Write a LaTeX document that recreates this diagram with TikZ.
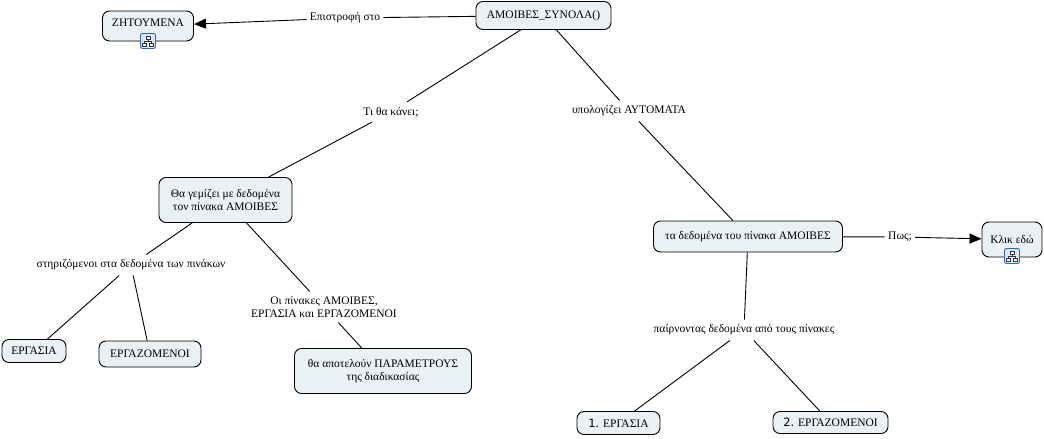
\documentclass[tikz,border=0pt]{standalone}
\usepackage{fontspec}
\setmainfont{Liberation Serif}
\newfontfamily\numfont{DejaVu Sans}
\usetikzlibrary{arrows.meta}
\definecolor{cfill}{HTML}{E9F1F5}
\definecolor{iconblue}{HTML}{2F64C0}
\definecolor{iconfill}{HTML}{DCE7F7}
\begin{document}
\begin{tikzpicture}[x=1pt,y=-1pt,
  font=\fontsize{11.5}{12.5}\selectfont,
  concept/.style={draw=black, fill=cfill, rounded corners=7pt, line width=0.9pt, align=center, inner sep=0pt},
  lab/.style={align=center, inner xsep=3pt, inner ysep=5pt},
  link/.style={draw=black, line width=0.9pt},
  arr/.style={link, -{Triangle[length=12pt,width=10pt]}},
  mapicon/.pic={
    \draw[iconblue, fill=iconfill, line width=0.9pt, rounded corners=2pt] (-7.5,-7.5) rectangle (7.5,7.5);
    \draw[black!80, line width=0.6pt, fill=white] (-2,-5) rectangle (2,-2);
    \draw[black!80, line width=0.6pt] (0,-2) -- (0,0) (-3.5,0) -- (3.5,0) (-3.5,0) -- (-3.5,2) (3.5,0) -- (3.5,2);
    \draw[black!80, line width=0.6pt, fill=white] (-5.5,2) rectangle (-1.5,5.2);
    \draw[black!80, line width=0.6pt, fill=white] (1.5,2) rectangle (5.5,5.2);
  }
]
\useasboundingbox (0,0) rectangle (1044,439);

% concepts
\node[concept, minimum width=135pt, minimum height=28pt] (amo) at (543.5,15.5) {ΑΜΟΙΒΕΣ\_ΣΥΝΟΛΑ()};
\node[concept, minimum width=91pt, minimum height=30pt] (zht) at (148,26) {ΖΗΤΟΥΜΕΝΑ\rule[-6pt]{0pt}{0pt}};
\node[concept, minimum width=133pt, minimum height=45pt] (thag) at (225.5,200) {Θα γεμίζει με δεδομένα\\τον πίνακα ΑΜΟΙΒΕΣ};
\node[concept, minimum width=189pt, minimum height=31pt] (dedo) at (748,236.5) {τα δεδομένα του πίνακα ΑΜΟΙΒΕΣ};
\node[concept, minimum width=60pt, minimum height=35pt] (klik) at (1012,239.5) {Κλικ εδώ};
\node[concept, minimum width=64pt, minimum height=23pt] (erg) at (34,351) {ΕΡΓΑΣΙΑ};
\node[concept, minimum width=102pt, minimum height=26pt] (ergz) at (150,354) {ΕΡΓΑΖΟΜΕΝΟΙ};
\node[concept, minimum width=177pt, minimum height=45pt] (par) at (383,371) {θα αποτελούν ΠΑΡΑΜΕΤΡΟΥΣ\\της διαδικασίας};
\node[concept, minimum width=83pt, minimum height=23pt] (e1) at (618.5,423) {{\numfont 1.} ΕΡΓΑΣΙΑ};
\node[concept, minimum width=115pt, minimum height=22pt] (e2) at (830.5,422.5) {{\numfont 2.} ΕΡΓΑΖΟΜΕΝΟΙ};

\pic at (148,41) {mapicon};
\pic at (1012,256) {mapicon};

% linking phrases
\node[lab] (l1) at (345,18) {Επιστροφή στο};
\node[lab] (l2) at (391,112) {Τι θα κάνει;};
\node[lab] (l3) at (629,111) {υπολογίζει ΑΥΤΟΜΑΤΑ};
\node[lab] (l4) at (131,265) {στηριζόμενοι στα δεδομένα των πινάκων};
\node[lab] (l5) at (324,307) {Οι πίνακες ΑΜΟΙΒΕΣ,\\ΕΡΓΑΣΙΑ και ΕΡΓΑΖΟΜΕΝΟΙ};
\node[lab] (l6) at (900,237) {Πως;};
\node[lab] (l7) at (744,330) {παίρνοντας δεδομένα από τους πίνακες};

% connectors
\draw[link] (amo) -- (l1);
\draw[arr] (l1) -- (zht);
\draw[link] (amo) -- (l2);
\draw[link] (l2) -- (thag);
\draw[link] (amo) -- (l3);
\draw[link] (l3) -- (dedo);
\draw[link] (thag) -- (l4);
\draw[link] (l4) -- (erg);
\draw[link] (l4) -- (ergz);
\draw[link] (thag) -- (l5);
\draw[link] (l5) -- (par);
\draw[link] (dedo) -- (l6);
\draw[arr] (l6) -- (klik);
\draw[link] (dedo) -- (l7);
\draw[link] (l7) -- (e1);
\draw[link] (l7) -- (e2);
\end{tikzpicture}
\end{document}
